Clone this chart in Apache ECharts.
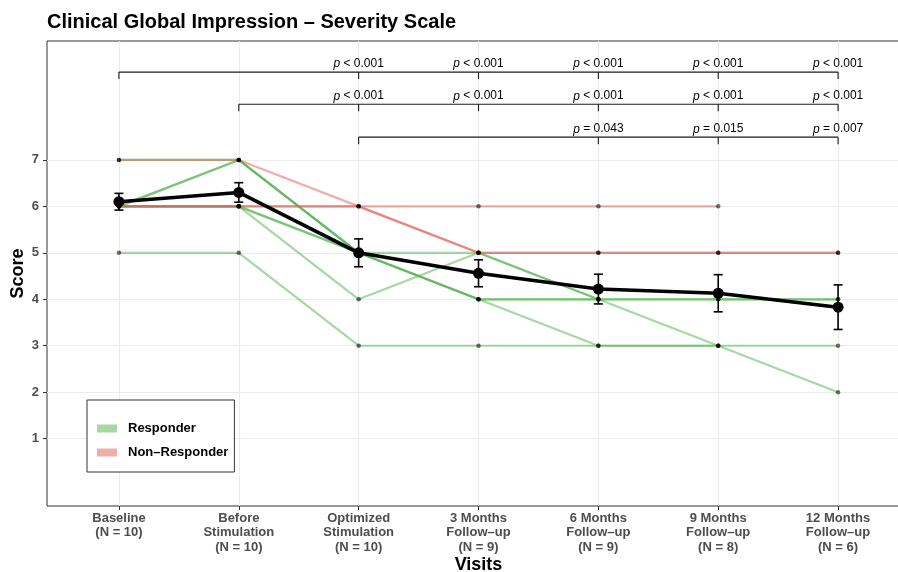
<!DOCTYPE html>
<html><head><meta charset="utf-8">
<script src="https://cdn.jsdelivr.net/npm/echarts@6/dist/echarts.min.js"></script>
<style>html,body{margin:0;padding:0;background:#fff}#c{width:898px;height:572px}</style>
</head><body><div id="c"></div>
<script>
// ---------- data ----------
const visits = [
  'Baseline\n(N = 10)',
  'Before\nStimulation\n(N = 10)',
  'Optimized\nStimulation\n(N = 10)',
  '3 Months\nFollow\u2013up\n(N = 9)',
  '6 Months\nFollow\u2013up\n(N = 9)',
  '9 Months\nFollow\u2013up\n(N = 8)',
  '12 Months\nFollow\u2013up\n(N = 6)'
];
const yTicks = [1, 2, 3, 4, 5, 6, 7];
// individual patients (null = no visit)
const responderScores = [
  [7, 7, 5, 4, 4, 4, 4],
  [6, 7, 5, 4, 4, null, null],
  [6, 7, 5, 4, 3, 3, 3],
  [6, 6, 5, 5, 4, 4, 4],
  [6, 6, 5, null, null, null, null],
  [6, 6, 4, 5, 4, 3, 2],
  [5, 5, 3, 3, 3, 3, null]
];
const nonResponderScores = [
  [7, 7, 6, 6, 6, 6, null],
  [6, 6, 6, 5, 5, 5, 5],
  [6, 6, 6, 5, 5, 5, 5]
];
const meanScore = [6.1, 6.3, 5.0, 4.56, 4.22, 4.13, 3.83];
const seScore = [0.18, 0.21, 0.30, 0.29, 0.32, 0.40, 0.48];
// pairwise comparisons: reference visit, compared visits, p labels
const cmpRef = [0, 1, 2];
const cmpTargets = [[2, 3, 4, 5, 6], [2, 3, 4, 5, 6], [4, 5, 6]];
const cmpP = [
  ['< 0.001', '< 0.001', '< 0.001', '< 0.001', '< 0.001'],
  ['< 0.001', '< 0.001', '< 0.001', '< 0.001', '< 0.001'],
  ['= 0.043', '= 0.015', '= 0.007']
];
const legendNames = ['Responder', 'Non\u2013Responder'];

// ---------- styling / layout ----------
const FONT = 'Liberation Sans, Arial, Helvetica, sans-serif';
const GREEN = 'rgba(77,175,74,0.5)';
const RED = 'rgba(219,95,85,0.5)';
const YMIN = -0.45, YMAX = 9.56;
const bracketLevels = [8.89, 8.2, 7.49];
const TIP = 7;

const chart = echarts.init(document.getElementById('c'), null, {renderer: 'canvas'});

function patientSeries(arr, color, prefix) {
  return arr.map((row, j) => ({
    name: prefix + j,
    type: 'line',
    xAxisIndex: 0, yAxisIndex: 0,
    data: row.map((v, i) => [i, v]).filter(d => d[1] !== null),
    symbol: 'circle', symbolSize: 4.5, showSymbol: true,
    itemStyle: {color: 'rgba(0,0,0,0.55)', borderWidth: 0},
    lineStyle: {color: color, width: 2.2},
    emphasis: {disabled: true}, silent: true, z: 2, animation: false
  }));
}

const series = [];
series.push(...patientSeries(responderScores, GREEN, 'resp'));
series.push(...patientSeries(nonResponderScores, RED, 'nonresp'));

series.push({
  name: 'mean', type: 'line', xAxisIndex: 0, yAxisIndex: 0,
  data: meanScore.map((m, i) => [i, m]),
  symbol: 'circle', symbolSize: 11, showSymbol: true,
  itemStyle: {color: '#000'}, lineStyle: {color: '#000', width: 3.6},
  emphasis: {disabled: true}, silent: true, z: 5, animation: false
});

series.push({
  name: 'se', type: 'custom', xAxisIndex: 0, yAxisIndex: 0,
  data: meanScore.map((m, i) => [i, m - seScore[i], m + seScore[i]]),
  encode: {x: 0, y: [1, 2]},
  renderItem: function (params, api) {
    const x = api.value(0);
    const lo = api.coord([x, api.value(1)]);
    const hi = api.coord([x, api.value(2)]);
    const w = 4.5;
    const st = {stroke: '#000', lineWidth: 1.6};
    return {type: 'group', children: [
      {type: 'line', shape: {x1: lo[0], y1: lo[1], x2: hi[0], y2: hi[1]}, style: st},
      {type: 'line', shape: {x1: lo[0] - w, y1: lo[1], x2: lo[0] + w, y2: lo[1]}, style: st},
      {type: 'line', shape: {x1: hi[0] - w, y1: hi[1], x2: hi[0] + w, y2: hi[1]}, style: st}
    ]};
  },
  silent: true, z: 6, animation: false
});

series.push({
  name: 'brackets', type: 'custom', xAxisIndex: 0, yAxisIndex: 0,
  data: cmpRef.map((r, k) => [r, Math.max.apply(null, cmpTargets[k]), k]),
  encode: {x: [0, 1]},
  renderItem: function (params, api) {
    const k = api.value(2);
    const lev = bracketLevels[k];
    const a = api.coord([api.value(0), lev]);
    const b = api.coord([api.value(1), lev]);
    const st = {stroke: '#1a1a1a', lineWidth: 1.1};
    const ch = [
      {type: 'line', shape: {x1: a[0], y1: a[1], x2: b[0], y2: b[1]}, style: st},
      {type: 'line', shape: {x1: a[0], y1: a[1], x2: a[0], y2: a[1] + TIP}, style: st}
    ];
    cmpTargets[k].forEach((t, n) => {
      const p = api.coord([t, lev]);
      ch.push({type: 'line', shape: {x1: p[0], y1: p[1], x2: p[0], y2: p[1] + TIP}, style: st});
      ch.push({type: 'text', x: p[0], y: p[1] - 2, style: {
        text: '{i|p} ' + cmpP[k][n],
        rich: {i: {fontStyle: 'italic', fontSize: 12, fontFamily: FONT, fill: '#000'}},
        fontSize: 12, fontFamily: FONT, fill: '#000', align: 'center', verticalAlign: 'bottom'
      }});
    });
    return {type: 'group', children: ch};
  },
  silent: true, z: 3, animation: false
});

// legend proxies
series.push({name: legendNames[0], type: 'bar', xAxisIndex: 1, yAxisIndex: 1, data: [], itemStyle: {color: GREEN}});
series.push({name: legendNames[1], type: 'bar', xAxisIndex: 1, yAxisIndex: 1, data: [], itemStyle: {color: RED}});

const option = {
  animation: false,
  backgroundColor: '#fff',
  textStyle: {fontFamily: FONT},
  title: {
    text: 'Clinical Global Impression \u2013 Severity Scale',
    left: 47, top: 12, padding: 0,
    textStyle: {fontFamily: FONT, fontSize: 20, fontWeight: 'bold', color: '#000'}
  },
  legend: {
    data: legendNames.map(n => ({name: n, icon: 'rect'})),
    orient: 'vertical', left: 87, top: 400,
    itemWidth: 20, itemHeight: 8, itemGap: 11,
    padding: [22, 6, 13, 10],
    backgroundColor: '#fff', borderColor: '#333', borderWidth: 1, borderRadius: 0,
    textStyle: {fontFamily: FONT, fontSize: 13, fontWeight: 'bold', color: '#000', padding: [0, 0, 0, 6]},
    selectedMode: false
  },
  grid: [
    {left: 47, right: -12, top: 41, bottom: 66, containLabel: false, outerBoundsMode: 'none',
     show: true, borderColor: '#333', borderWidth: 1, backgroundColor: 'transparent'},
    {left: 119, right: 60, top: 41, bottom: 66, containLabel: false, outerBoundsMode: 'none'}
  ],
  xAxis: [
    {
      type: 'value', gridIndex: 0, min: -0.6, max: 6.6,
      axisLine: {show: false, onZero: false}, axisTick: {show: false}, axisLabel: {show: false}, splitLine: {show: false},
      name: 'Visits', nameLocation: 'middle', nameGap: 50, nameMoveOverlap: false,
      nameTextStyle: {fontFamily: FONT, fontSize: 18, fontWeight: 'bold', color: '#000'}
    },
    {
      type: 'category', gridIndex: 1, data: visits, boundaryGap: false,
      axisLine: {show: false, onZero: false},
      axisTick: {show: true, length: 4, lineStyle: {color: '#333', width: 1}},
      axisLabel: {interval: 0, margin: 5, fontFamily: FONT, fontSize: 13, fontWeight: 'bold', color: '#4D4D4D', lineHeight: 14.5},
      splitLine: {show: true, lineStyle: {color: '#EBEBEB', width: 1.1}}
    }
  ],
  yAxis: [
    {
      type: 'value', gridIndex: 0, min: YMIN, max: YMAX,
      axisLine: {show: false, onZero: false},
      axisTick: {show: true, length: 4, customValues: yTicks, lineStyle: {color: '#333'}},
      axisLabel: {customValues: yTicks, margin: 8, fontFamily: FONT, fontSize: 13, fontWeight: 'bold', color: '#4D4D4D'},
      splitLine: {show: true, lineStyle: {color: '#EBEBEB', width: 1.1}},
      name: 'Score', nameLocation: 'middle', nameGap: 20, nameRotate: 90, nameMoveOverlap: false,
      nameTextStyle: {fontFamily: FONT, fontSize: 18, fontWeight: 'bold', color: '#000'}
    },
    {type: 'value', gridIndex: 1, min: YMIN, max: YMAX, show: false, axisLine: {onZero: false}}
  ],
  series: series
};
chart.setOption(option);
</script>
</body></html>
